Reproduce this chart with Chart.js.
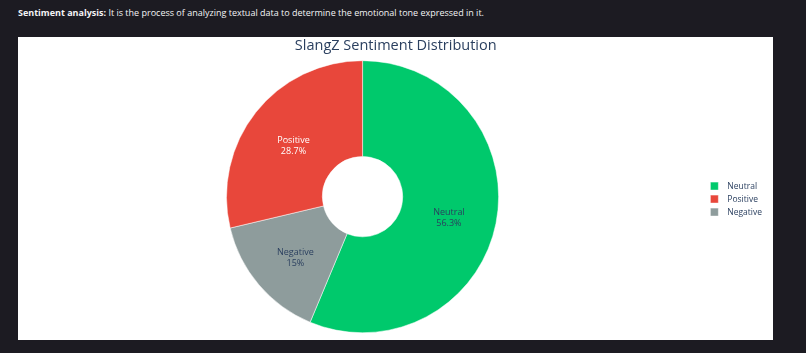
<!DOCTYPE html>
<html>
<head>
<meta charset="utf-8">
<script src="https://cdn.jsdelivr.net/npm/chart.js@4"></script>
<style>
  html, body { margin: 0; padding: 0; background: #1c1b22; width: 806px; height: 353px; overflow: hidden; }
  .note { position: absolute; left: 18px; top: 6px; font: 9px "Open Sans", sans-serif; color: #f3f3f5; white-space: nowrap; }
  .note b { font-weight: 700; }
  .panel { position: absolute; left: 18px; top: 37px; width: 755px; height: 303px; background: #fff; }
  .panel canvas { position: absolute; left: 0; top: 0; }
</style>
</head>
<body>
<div class="note"><b>Sentiment analysis:</b> It is the process of analyzing textual data to determine the emotional tone expressed in it.</div>
<div class="panel"><canvas id="chart" width="770" height="303"></canvas></div>
<script>
// slices in drawing order (clockwise from 12 o'clock)
const categories = ['Neutral', 'Negative', 'Positive']
const shares = [56.3, 15, 28.7]
const sliceColors = ['#00c96c', '#8e9c9c', '#e8473b']
const labelColors = ['#2a3f5f', '#2a3f5f', '#ffffff']

// draws "Name\nxx%" inside each slice, at the arc's own tooltip position
const sliceLabels = {
  id: 'sliceLabels',
  afterDatasetsDraw(chart) {
    const ctx = chart.ctx
    const meta = chart.getDatasetMeta(0)
    ctx.save()
    ctx.font = '9px "Open Sans", sans-serif'
    ctx.textAlign = 'center'
    ctx.textBaseline = 'middle'
    meta.data.forEach((arc, i) => {
      const pos = arc.tooltipPosition()
      ctx.fillStyle = labelColors[i]
      ctx.fillText(categories[i], pos.x, pos.y - 1.5)
      ctx.fillText(shares[i] + '%', pos.x, pos.y + 9.5)
    })
    ctx.restore()
  }
}

new Chart(document.getElementById('chart'), {
  type: 'doughnut',
  data: {
    labels: categories,
    datasets: [{
      data: shares,
      backgroundColor: sliceColors,
      borderColor: '#ffffff',
      borderWidth: 0.5,
      hoverOffset: 0
    }]
  },
  options: {
    responsive: false,
    animation: false,
    cutout: '29.5%',
    layout: { padding: { left: 1.5, right: 16, top: 0, bottom: 7 } },
    plugins: {
      title: {
        display: true,
        text: 'SlangZ Sentiment Distribution',
        color: '#2a3f5f',
        font: { family: '"Open Sans", sans-serif', size: 14.5, weight: 'normal' },
        padding: { top: 0, bottom: 6 }
      },
      legend: {
        position: 'right',
        title: { display: true, text: ' ', font: { size: 1 }, padding: { top: 0, bottom: 27 } },
        labels: {
          usePointStyle: true,
          pointStyle: 'rect',
          boxWidth: 9,
          boxHeight: 8,
          padding: 4.5,
          color: '#2a3f5f',
          font: { family: '"Open Sans", sans-serif', size: 8.5 },
          sort: (a, b) => shares[b.index] - shares[a.index],
          generateLabels(chart) {
            const items = Chart.overrides.doughnut.plugins.legend.labels.generateLabels(chart)
            items.forEach(item => { item.text = '\u00a0\u00a0' + item.text })
            return items
          }
        }
      },
      tooltip: { enabled: false }
    }
  },
  plugins: [sliceLabels]
})
</script>
</body>
</html>
